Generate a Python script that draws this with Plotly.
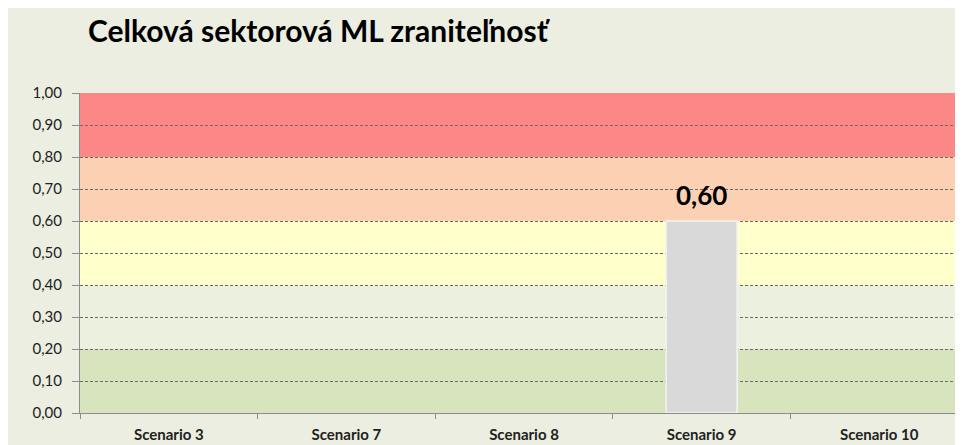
import plotly.graph_objects as go

categories = ["Scenario 3", "Scenario 7", "Scenario 8", "Scenario 9", "Scenario 10"]
values = [None, None, None, 0.60, None]
band_edges = [0.0, 0.2, 0.4, 0.6, 0.8, 1.0]
band_colors = ["#d7e4bd", "#ebf1de", "#ffffcc", "#fcd0b2", "#fc8787"]
title_text = "Celková sektorová ML zraniteľnosť"

W, H = 963, 445
# page body adds an 8px offset; margins are in figure coords
ml, mr, mt, mb = 72, 3, 85, 40
bg = "#ebeee0"

fig = go.Figure()
fig.add_trace(go.Bar(
    x=categories, y=values, width=0.4,
    marker=dict(color="#d9d9d9", line=dict(color="#f4f4f4", width=1.5)),
    hoverinfo="skip",
))

annotations = []
for c, v in zip(categories, values):
    if v is None:
        continue
    annotations.append(dict(
        x=c, y=v, xref="x", yref="y", text=f"{v:.2f}".replace(".", ","),
        showarrow=False, yanchor="bottom", yshift=8,
        font=dict(family="Lato, sans-serif", size=26, color="#000000", weight="bold"),
    ))

shapes = []
for i in range(len(band_colors)):
    shapes.append(dict(type="rect", xref="paper", yref="y",
                       x0=0, x1=1, y0=band_edges[i], y1=band_edges[i + 1],
                       fillcolor=band_colors[i], line=dict(width=0), layer="below"))

fig.update_layout(
    width=W, height=H,
    margin=dict(l=ml, r=mr, t=mt, b=mb),
    paper_bgcolor=bg,
    plot_bgcolor="rgba(0,0,0,0)",
    separators=", ",
    showlegend=False,
    bargap=0.6,
    shapes=shapes,
    annotations=annotations,
    title=dict(text=title_text, x=80 / W, xanchor="left", xref="container",
               y=1 - 23 / H, yanchor="middle", yref="container",
               font=dict(family="Lato, sans-serif", size=30, color="#000000", weight="bold")),
    font=dict(family="Lato, sans-serif", color="#222222"),
)
fig.update_xaxes(
    type="category", range=[-0.5, 4.5],
    showline=True, linecolor="#8c8c8c", linewidth=1,
    showgrid=False,
    ticks="outside", ticklen=5, tickcolor="#8c8c8c", tickson="boundaries",
    ticklabelstandoff=8,
    tickfont=dict(size=15, color="#222222", weight="bold"),
    fixedrange=True,
)
fig.update_yaxes(
    range=[0, 1.0], dtick=0.1, tickformat=".2f",
    showline=True, linecolor="#8c8c8c", linewidth=1,
    showgrid=True, gridcolor="#6a6a6a", gridwidth=1, griddash="3px,2px",
    zeroline=False,
    ticks="outside", ticklen=7, tickcolor="#8c8c8c",
    ticklabelstandoff=7,
    tickfont=dict(size=15, color="#222222"),
    fixedrange=True,
)

fig.write_html("out.html")
